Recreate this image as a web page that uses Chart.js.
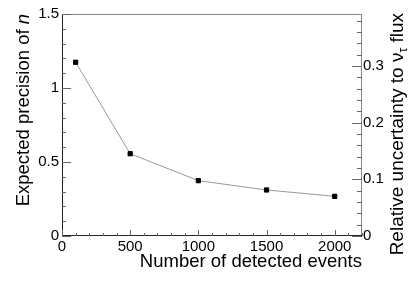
<!DOCTYPE html>
<html>
<head>
<meta charset="utf-8">
<script src="https://cdn.jsdelivr.net/npm/chart.js@4.4.1/dist/chart.umd.min.js"></script>
<style>
html, body { margin: 0; padding: 0; background: #fff; }
#wrap { width: 416px; height: 284px; }
</style>
</head>
<body>
<div id="wrap"><canvas id="chart"></canvas></div>
<script>
'use strict';

// data
const events = [100, 500, 1000, 1500, 2000];
const precision = [1.174, 0.556, 0.374, 0.311, 0.268];

const xTicks = [0, 500, 1000, 1500, 2000];
const xTickLabels = ['0', '500', '1000', '1500', '2000'];
const yTicks = [0, 0.5, 1, 1.5];
const yTickLabels = ['0', '0.5', '1', '1.5'];
const y2Ticks = [0, 0.1, 0.2, 0.3];
const y2TickLabels = ['0', '0.1', '0.2', '0.3'];

const FONT = '"Liberation Sans", Arial, Helvetica, sans-serif';

// ROOT-like frame: inward ticks, titles aligned to the axis end
const rootAxes = {
    id: 'rootAxes',
    afterDraw(chart) {
        const { ctx, chartArea: a, scales } = chart;
        const { x, y, y2 } = scales;
        ctx.save();
        ctx.lineWidth = 1;

        // frame
        ctx.strokeStyle = '#888';
        ctx.beginPath();
        ctx.moveTo(a.left, a.top + 0.5);
        ctx.lineTo(a.right, a.top + 0.5);
        ctx.moveTo(a.right - 0.5, a.top);
        ctx.lineTo(a.right - 0.5, a.bottom);
        ctx.stroke();
        ctx.strokeStyle = '#222';
        ctx.beginPath();
        ctx.moveTo(a.left + 0.5, a.top);
        ctx.lineTo(a.left + 0.5, a.bottom);
        ctx.moveTo(a.left, a.bottom - 0.5);
        ctx.lineTo(a.right, a.bottom - 0.5);
        ctx.stroke();

        // tick marks
        ctx.strokeStyle = '#666';
        ctx.beginPath();
        for (let i = 0; i <= 22; i++) {
            const px = Math.round(x.getPixelForValue(i * 100)) + 0.5;
            const len = i % 5 === 0 ? 6 : 3;
            ctx.moveTo(px, a.bottom);
            ctx.lineTo(px, a.bottom - len);
        }
        for (let i = 0; i <= 15; i++) {
            const py = Math.round(y.getPixelForValue(i * 0.1)) + 0.5;
            const len = i % 5 === 0 ? 9 : 4;
            ctx.moveTo(a.left, py);
            ctx.lineTo(a.left + len, py);
        }
        for (let i = 0; i <= 19; i++) {
            const py = Math.round(y2.getPixelForValue(i * 0.02)) + 0.5;
            const len = i % 5 === 0 ? 10 : 5;
            ctx.moveTo(a.right, py);
            ctx.lineTo(a.right - len, py);
        }
        ctx.stroke();

        // axis titles
        ctx.fillStyle = '#000';
        ctx.textBaseline = 'alphabetic';

        ctx.font = '18.5px ' + FONT;
        ctx.textAlign = 'right';
        ctx.fillText('Number of detected events', a.right, 267);

        // left title, italic n at the end
        ctx.save();
        ctx.translate(29, a.top);
        ctx.rotate(-Math.PI / 2);
        ctx.font = 'italic 18.5px ' + FONT;
        const wn = ctx.measureText('n').width;
        ctx.fillText('n', 0, 0);
        ctx.font = '18.5px ' + FONT;
        ctx.fillText('Expected precision of ', -wn, 0);
        ctx.restore();

        // right title with subscript tau
        ctx.save();
        ctx.translate(403, a.top - 1);
        ctx.rotate(-Math.PI / 2);
        ctx.textAlign = 'left';
        const p1 = 'Relative uncertainty to \u03bd', sub = '\u03c4', p2 = ' flux';
        ctx.font = '19px ' + FONT;
        const w1 = ctx.measureText(p1).width;
        const w3 = ctx.measureText(p2).width;
        ctx.font = '12px ' + FONT;
        const w2 = ctx.measureText(sub).width;
        let cx = -(w1 + w2 + w3);
        ctx.font = '19px ' + FONT;
        ctx.fillText(p1, cx, 0);
        cx += w1;
        ctx.font = '12px ' + FONT;
        ctx.fillText(sub, cx, 4);
        cx += w2;
        ctx.font = '19px ' + FONT;
        ctx.fillText(p2, cx, 0);
        ctx.restore();

        ctx.restore();
    }
};

function fixedTicks(values) {
    return scale => { scale.ticks = values.map(v => ({ value: v })); };
}

const tickFont = { family: FONT, size: 15 };
const noGrid = { display: false, drawTicks: false };

new Chart(document.getElementById('chart').getContext('2d'), {
    type: 'line',
    data: {
        datasets: [{
            data: events.map((e, i) => ({ x: e, y: precision[i] })),
            borderColor: '#999',
            borderWidth: 1,
            pointStyle: 'rect',
            pointRadius: 3,
            pointBackgroundColor: '#000',
            pointBorderColor: '#000',
            pointBorderWidth: 1,
            tension: 0,
            yAxisID: 'y'
        }]
    },
    options: {
        responsive: true,
        maintainAspectRatio: false,
        animation: false,
        devicePixelRatio: 1,
        layout: { padding: { top: 14, left: 0, right: 0, bottom: 0 } },
        plugins: {
            legend: { display: false },
            tooltip: { enabled: false }
        },
        scales: {
            x: {
                type: 'linear',
                min: 0,
                max: 2200,
                afterBuildTicks: fixedTicks(xTicks),
                afterFit: s => { s.height = 48; },
                grid: noGrid,
                border: { display: false },
                ticks: {
                    autoSkip: false,
                    maxRotation: 0,
                    padding: 2,
                    color: '#000',
                    font: tickFont,
                    callback: (v, i) => xTickLabels[i]
                }
            },
            y: {
                type: 'linear',
                position: 'left',
                min: 0,
                max: 1.5,
                afterBuildTicks: fixedTicks(yTicks),
                afterFit: s => { s.width = 62; },
                grid: noGrid,
                border: { display: false },
                ticks: {
                    autoSkip: false,
                    padding: 3,
                    color: '#000',
                    font: tickFont,
                    callback: (v, i) => yTickLabels[i]
                }
            },
            y2: {
                type: 'linear',
                position: 'right',
                min: 0,
                max: 0.3915,
                afterBuildTicks: fixedTicks(y2Ticks),
                afterFit: s => { s.width = 54; },
                grid: noGrid,
                border: { display: false },
                ticks: {
                    autoSkip: false,
                    padding: 1,
                    color: '#000',
                    font: tickFont,
                    callback: (v, i) => y2TickLabels[i]
                }
            }
        }
    },
    plugins: [rootAxes]
});
</script>
</body>
</html>
